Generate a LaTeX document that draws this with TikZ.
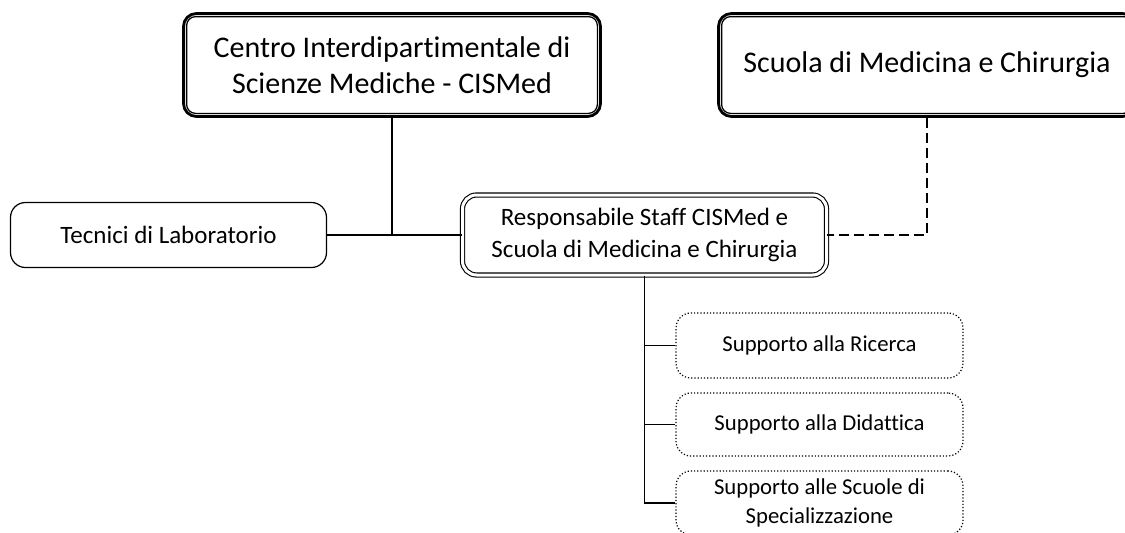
\documentclass[tikz,border=0pt]{standalone}
\usepackage{fontspec}
\setmainfont{Carlito}[Ligatures=NoCommon]
\begin{document}
\begin{tikzpicture}
        [x=1pt, y=-1pt,
        big/.style={draw, line width=2.8pt, rounded corners=13pt, align=center, font=\fontsize{30}{36.6}\selectfont},
        inner/.style={line width=1.3pt, rounded corners=9pt},
        resp/.style={draw, double, double distance=3pt, line width=1.1pt, rounded corners=14pt, align=center, font=\fontsize{25}{32}\selectfont},
        unit/.style={draw, line width=1.2pt, rounded corners=15pt, font=\fontsize{25}{31}\selectfont},
        office/.style={draw, dotted, line width=1.2pt, rounded corners=15pt, align=center, minimum width=287pt, font=\fontsize{22.7}{29.5}\selectfont},
        link/.style={black, line width=1.4pt},
        staff/.style={black, line width=1.6pt, dash pattern=on 10pt off 5pt}]

        \useasboundingbox (0,0) rectangle (1125,533);

        \node[big, minimum width=417pt, minimum height=103pt] (cismed) at (392,65) {Centro Interdipartimentale di\\Scienze Mediche - CISMed};
        \node[big, minimum width=417pt, minimum height=103pt] (scuola) at (927,65) {Scuola di Medicina e Chirurgia};
        \node[resp, minimum width=364pt, minimum height=80pt] (staff) at (644.5,235) {Responsabile Staff CISMed e\\Scuola di Medicina e Chirurgia};
        \node[unit, minimum width=316pt, minimum height=65pt] (tecnici) at (168.5,235) {Tecnici di Laboratorio};
        \node[office, minimum height=65pt] (ricerca) at (819.5,345.5) {Supporto alla Ricerca};
        \node[office, minimum height=63pt] (didattica) at (819.5,424.5) {Supporto alla Didattica};
        \node[office, minimum height=64pt] (scuole) at (819.5,503) {Supporto alle Scuole di\\Specializzazione};

        % inner lines of the thick double borders
        \draw[inner] ([xshift=4.5pt,yshift=-4.5pt]cismed.north west) rectangle ([xshift=-4.5pt,yshift=4.5pt]cismed.south east);
        \draw[inner] ([xshift=4.5pt,yshift=-4.5pt]scuola.north west) rectangle ([xshift=-4.5pt,yshift=4.5pt]scuola.south east);

        % hierarchy lines
        \draw[link] (tecnici) -- (staff);
        \draw[link] (cismed) -- (cismed.south |- staff.west);
        \draw[link] (staff.south) -- (staff.south |- scuole.west) -- (scuole);
        \draw[link] (staff.south |- ricerca.west) -- (ricerca);
        \draw[link] (staff.south |- didattica.west) -- (didattica);

        % dashed link to the school
        \draw[staff] (scuola) -- (scuola.south |- staff.east) -- (staff);

        \end{tikzpicture}
\end{document}
